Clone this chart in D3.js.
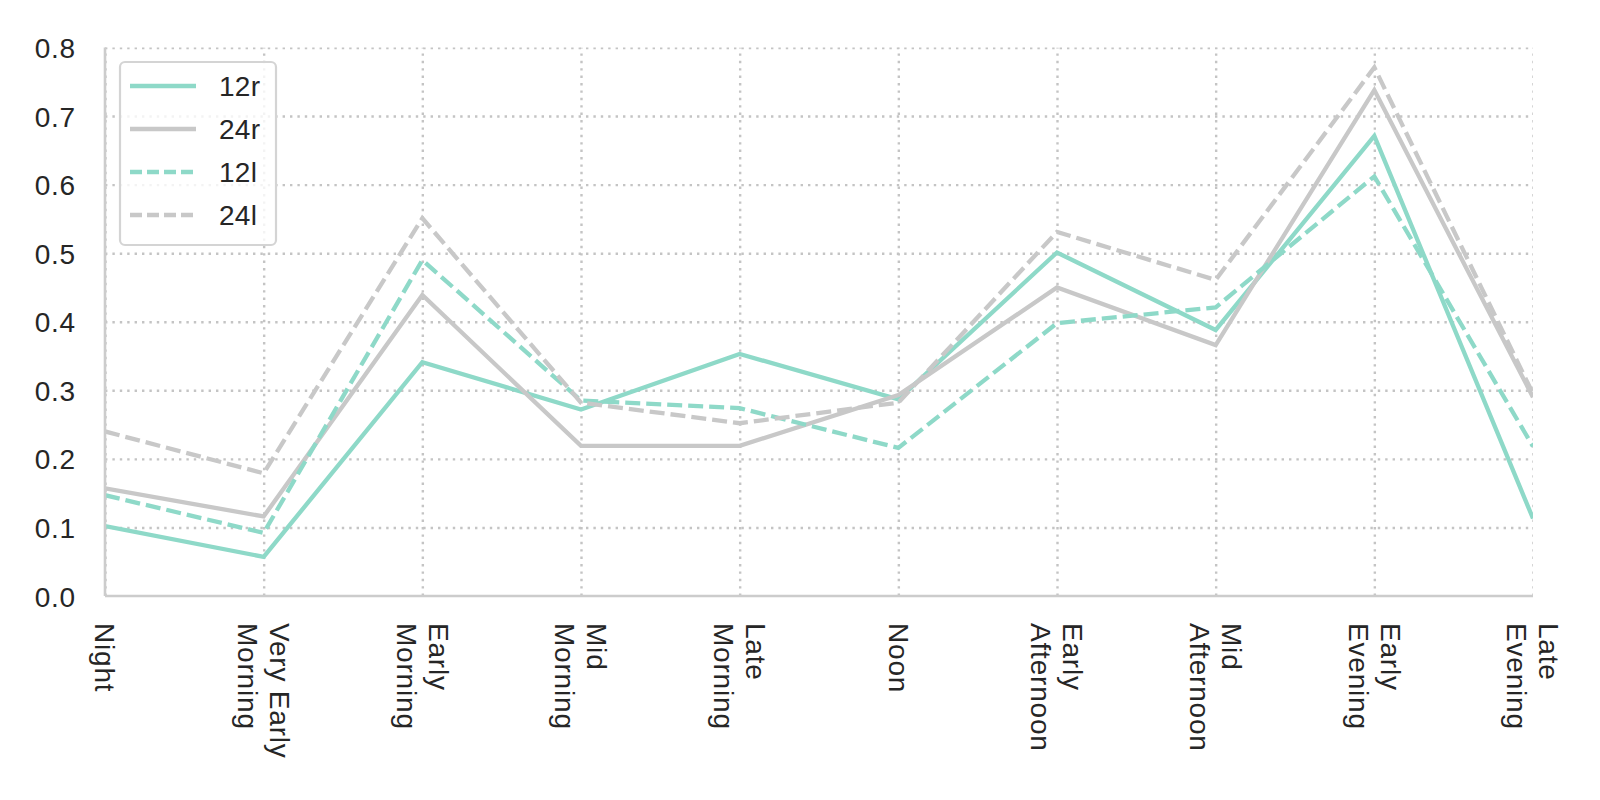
<!DOCTYPE html>
<html>
<head>
<meta charset="utf-8">
<script src="https://cdn.jsdelivr.net/npm/d3@7"></script>
<style>
  body { margin: 0; background: #fff; }
  svg { display: block; font-family: "Liberation Sans", Arial, sans-serif; }
</style>
</head>
<body>
<svg id="chart" width="1600" height="800"></svg>
<script>
// categories along the x axis (line breaks as in the picture)
var categories = [
  "Night", "Very Early\nMorning", "Early\nMorning", "Mid\nMorning", "Late\nMorning",
  "Noon", "Early\nAfternoon", "Mid\nAfternoon", "Early\nEvening", "Late\nEvening"
];

// series values
var r12 = [0.102, 0.057, 0.341, 0.272, 0.353, 0.287, 0.501, 0.388, 0.671, 0.113];
var r24 = [0.157, 0.116, 0.439, 0.219, 0.219, 0.293, 0.450, 0.366, 0.738, 0.290];
var l12 = [0.147, 0.092, 0.490, 0.285, 0.274, 0.216, 0.398, 0.421, 0.612, 0.218];
var l24 = [0.240, 0.179, 0.551, 0.282, 0.252, 0.282, 0.531, 0.461, 0.771, 0.295];

var yTicks = [0, 0.1, 0.2, 0.3, 0.4, 0.5, 0.6, 0.7, 0.8];

var series = [
  { name: "12r", values: r12, color: "#8ed9c8", dash: null },
  { name: "24r", values: r24, color: "#c8c8c8", dash: null },
  { name: "12l", values: l12, color: "#8ed9c8", dash: "15,6" },
  { name: "24l", values: l24, color: "#c8c8c8", dash: "15,6" }
];

var plotLeft = 105, plotRight = 1533, plotTop = 47.5, plotBottom = 596;
var fontSize = 28, textColor = "#262626", spacing = "0.8px";

var svg = d3.select("#chart");

var x = d3.scalePoint()
  .domain(d3.range(categories.length))
  .range([plotLeft, plotRight]);

var y = d3.scaleLinear()
  .domain([0, 0.8])
  .range([plotBottom, plotTop]);

// clip for everything inside the axes
svg.append("clipPath")
  .attr("id", "plot-clip")
  .append("rect")
  .attr("x", plotLeft)
  .attr("y", plotTop)
  .attr("width", plotRight - plotLeft)
  .attr("height", plotBottom - plotTop);

// dotted grid
var grid = svg.append("g").attr("clip-path", "url(#plot-clip)");

grid.append("g")
  .attr("transform", "translate(" + plotLeft + ",0)")
  .call(d3.axisLeft(y).tickValues(yTicks).tickSize(-(plotRight - plotLeft)).tickFormat(""))
  .call(function (g) { g.select(".domain").remove(); });

grid.append("g")
  .attr("transform", "translate(0," + plotBottom + ")")
  .call(d3.axisBottom(x).tickSize(plotBottom - plotTop).tickFormat(""))
  .call(function (g) { g.select(".domain").remove(); })
  .selectAll("line")
  .attr("y2", -(plotBottom - plotTop));

grid.selectAll("line")
  .attr("stroke", "#c4c4c4")
  .attr("stroke-width", 2.4)
  .attr("stroke-dasharray", "2.4,5");

// the lines
var line = d3.line()
  .x(function (d, i) { return x(i); })
  .y(function (d) { return y(d); });

svg.append("g")
  .attr("clip-path", "url(#plot-clip)")
  .selectAll("path")
  .data(series)
  .enter()
  .append("path")
  .attr("d", function (d) { return line(d.values); })
  .attr("fill", "none")
  .attr("stroke", function (d) { return d.color; })
  .attr("stroke-width", 4.3)
  .attr("stroke-dasharray", function (d) { return d.dash; })
  .attr("stroke-linejoin", "miter");

// spines
svg.append("line")
  .attr("x1", plotLeft).attr("x2", plotLeft)
  .attr("y1", plotTop).attr("y2", plotBottom)
  .attr("stroke", "#cccccc").attr("stroke-width", 2.6);
svg.append("line")
  .attr("x1", plotLeft).attr("x2", plotRight)
  .attr("y1", plotBottom).attr("y2", plotBottom)
  .attr("stroke", "#cccccc").attr("stroke-width", 2.6);

// y axis labels
var yAxis = svg.append("g")
  .attr("transform", "translate(" + plotLeft + ",0)")
  .call(d3.axisLeft(y).tickValues(yTicks).tickFormat(d3.format(".1f")).tickSize(0).tickPadding(29));
yAxis.select(".domain").remove();
yAxis.selectAll("text")
  .attr("font-size", fontSize)
  .attr("font-family", "Liberation Sans, Arial, sans-serif")
  .attr("letter-spacing", spacing)
  .attr("fill", textColor)
  .attr("dy", "0.36em");

// x axis labels, rotated, multi-line
var xAxis = svg.append("g")
  .attr("transform", "translate(0," + plotBottom + ")")
  .call(d3.axisBottom(x).tickSize(0).tickFormat(""));
xAxis.select(".domain").remove();

var lineGap = 32;
xAxis.selectAll(".tick").each(function (i) {
  var parts = categories[i].split("\n");
  var t = d3.select(this).append("text")
    .attr("transform", "translate(0,27) rotate(90)")
    .attr("text-anchor", "start")
    .attr("font-size", fontSize)
    .attr("font-family", "Liberation Sans, Arial, sans-serif")
    .attr("letter-spacing", spacing)
    .attr("fill", textColor);
  parts.forEach(function (p, k) {
    t.append("tspan")
      .attr("x", 0)
      .attr("y", (k - (parts.length - 1) / 2) * lineGap + 0.36 * fontSize)
      .text(p);
  });
});

// legend
var legend = svg.append("g");
legend.append("rect")
  .attr("x", 120).attr("y", 62)
  .attr("width", 156).attr("height", 183)
  .attr("rx", 5)
  .attr("fill", "#ffffff").attr("fill-opacity", 0.8)
  .attr("stroke", "#d4d4d4").attr("stroke-width", 2.2);

var item = legend.selectAll("g.item")
  .data(series)
  .enter()
  .append("g")
  .attr("class", "item")
  .attr("transform", function (d, i) { return "translate(0," + (86 + i * 43) + ")"; });

item.append("line")
  .attr("x1", 130).attr("x2", 196)
  .attr("stroke", function (d) { return d.color; })
  .attr("stroke-width", 4.3)
  .attr("stroke-dasharray", function (d) { return d.dash ? "12,5" : null; });

item.append("text")
  .attr("x", 219)
  .attr("y", 0.36 * fontSize)
  .attr("font-size", fontSize)
  .attr("letter-spacing", "0.3px")
  .attr("fill", textColor)
  .text(function (d) { return d.name; });
</script>
</body>
</html>
